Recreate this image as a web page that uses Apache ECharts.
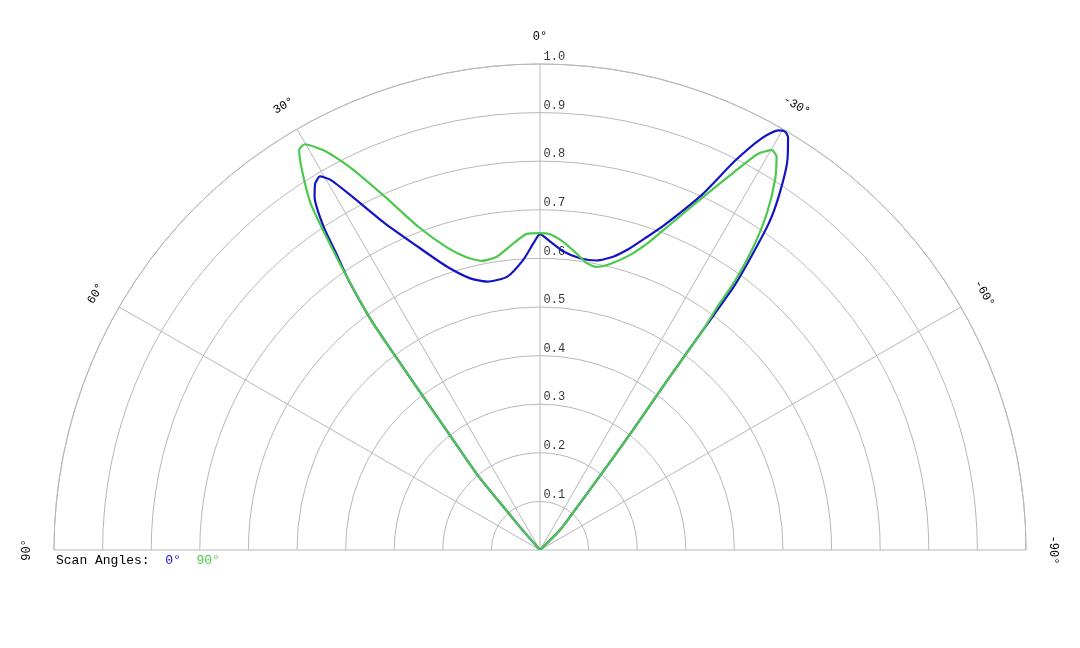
<!DOCTYPE html>
<html>
<head>
<meta charset="utf-8">
<script src="https://cdn.jsdelivr.net/npm/echarts@6/dist/echarts.min.js"></script>
<style>
  html, body { margin: 0; padding: 0; background: #fff; }
  #chart { width: 1080px; height: 648px; }
</style>
</head>
<body>
<div id="chart"></div>
<script>
// angle axis ticks (degrees, 0 at top, positive to the left)
const angleTicks = [-90, -60, -30, 0, 30, 60, 90];
const radiusTicks = [0.1, 0.2, 0.3, 0.4, 0.5, 0.6, 0.7, 0.8, 0.9, 1.0];

// scan angle 0° (blue)
const blueAngle = [42, 41.2, 40.4, 39.9, 38.2, 37.3, 36.73, 36.3, 35.35, 34.54, 33.8, 32.55, 31.5, 30.5, 29.5, 28.0, 25.4, 21.9, 18.2, 14.4, 11.2, 6.9, 3.3, 1.25, 0,
  -1.9, -4.5, -7.8, -11.1, -14.0, -16.6, -18.5, -20.9, -24.5, -26.6, -28.3, -29.6, -30.3, -31.0, -32.55, -34.04, -35.0, -35.76, -36.35, -36.54, -36.87, -37.78, -39.15, -41.2, -45, -46];
const blueRadius = [0, 0.055, 0.100, 0.196, 0.296, 0.396, 0.495, 0.587, 0.681, 0.737, 0.801, 0.862, 0.885, 0.892, 0.875, 0.824, 0.744, 0.672, 0.614, 0.577, 0.563, 0.566, 0.598, 0.631, 0.650,
  0.635, 0.616, 0.606, 0.607, 0.622, 0.648, 0.675, 0.715, 0.803, 0.895, 0.962, 0.993, 0.998, 0.991, 0.945, 0.877, 0.821, 0.743, 0.672, 0.563, 0.437, 0.312, 0.186, 0.109, 0.058, 0];

// scan angle 90° (green)
const greenAngle = [42, 41.2, 40.4, 39.9, 38.2, 37.3, 36.73, 36.3, 35.35, 34.3, 33.48, 32.06, 31.04, 30.1, 28.2, 26.3, 23.7, 20.6, 17.0, 14.1, 11.4, 8.4, 5.0, 2.4, 0,
  -1.8, -4.3, -7.0, -9.25, -11.3, -13.75, -17.0, -19.5, -21.6, -24.65, -27.2, -28.8, -30.1, -31.04, -32.42, -33.96, -35.14, -35.91, -36.11, -36.54, -36.87, -37.78, -39.15, -41.2, -45, -46];
const greenRadius = [0, 0.055, 0.100, 0.196, 0.296, 0.396, 0.495, 0.587, 0.681, 0.780, 0.856, 0.923, 0.961, 0.965, 0.930, 0.876, 0.794, 0.710, 0.650, 0.621, 0.607, 0.610, 0.633, 0.651, 0.652,
  0.650, 0.636, 0.615, 0.598, 0.594, 0.606, 0.635, 0.672, 0.717, 0.796, 0.875, 0.930, 0.951, 0.944, 0.902, 0.836, 0.763, 0.686, 0.621, 0.563, 0.437, 0.312, 0.186, 0.109, 0.058, 0];

const FONT = "'Courier New', 'Liberation Mono', monospace";
const GRID = '#b8b8b8';
const BLUE = '#1414c4';
const GREEN = '#4cc84c';
const CX = 540, CY = 550, R = 486;

const chart = echarts.init(document.getElementById('chart'));

// angle labels, rotated along the arc
const angleLabels = angleTicks.map(a => {
    const rad = a * Math.PI / 180;
    const d = R + 27;
    return {
        type: 'text',
        x: CX - d * Math.sin(rad),
        y: CY - d * Math.cos(rad),
        rotation: rad,
        style: {
            text: a + '°',
            font: '12px ' + FONT,
            fill: '#000',
            align: 'center',
            verticalAlign: 'middle'
        }
    };
});

const option = {
    backgroundColor: '#fff',
    animation: false,
    polar: { center: [CX, CY], radius: R },
    angleAxis: {
        type: 'value',
        min: -90,
        max: 90,
        interval: 30,
        startAngle: 0,
        endAngle: 180,
        clockwise: false,
        axisLine: { lineStyle: { color: GRID, width: 1 } },
        axisTick: { show: false },
        axisLabel: { show: false },
        splitLine: { show: true, lineStyle: { color: GRID, width: 1 } }
    },
    radiusAxis: {
        type: 'value',
        min: 0,
        max: 1,
        interval: 0.1,
        axisLine: { show: false },
        axisTick: { show: false },
        axisLabel: { show: false },
        splitLine: { show: true, lineStyle: { color: GRID, width: 1 } }
    },
    series: [
        {
            name: '0°',
            type: 'line',
            coordinateSystem: 'polar',
            data: blueAngle.map((a, i) => [blueRadius[i], a]),
            symbol: 'none',
            smooth: 0.2,
            lineStyle: { color: BLUE, width: 2.2 },
            silent: true
        },
        {
            name: '90°',
            type: 'line',
            coordinateSystem: 'polar',
            data: greenAngle.map((a, i) => [greenRadius[i], a]),
            symbol: 'none',
            smooth: 0.2,
            lineStyle: { color: GREEN, width: 2.2 },
            silent: true
        },
        {
            // radius tick labels along the 0° line
            type: 'scatter',
            coordinateSystem: 'polar',
            data: radiusTicks.map(v => [v, 0]),
            symbolSize: 1,
            itemStyle: { color: 'rgba(0,0,0,0)' },
            silent: true,
            label: {
                show: true,
                position: 'right',
                distance: 3,
                offset: [0, -7],
                formatter: p => p.value[0].toFixed(1),
                fontFamily: FONT,
                fontSize: 12,
                color: '#000'
            }
        }
    ],
    graphic: angleLabels.concat([
        {
            type: 'text',
            x: 56,
            y: 561,
            style: {
                text: '{k|Scan Angles:}  {b|0°}  {g|90°}',
                font: '13px ' + FONT,
                verticalAlign: 'middle',
                rich: {
                    k: { fill: '#000', font: '13px ' + FONT },
                    b: { fill: BLUE, font: '13px ' + FONT },
                    g: { fill: GREEN, font: '13px ' + FONT }
                }
            }
        }
    ])
};

chart.setOption(option);
</script>
</body>
</html>
